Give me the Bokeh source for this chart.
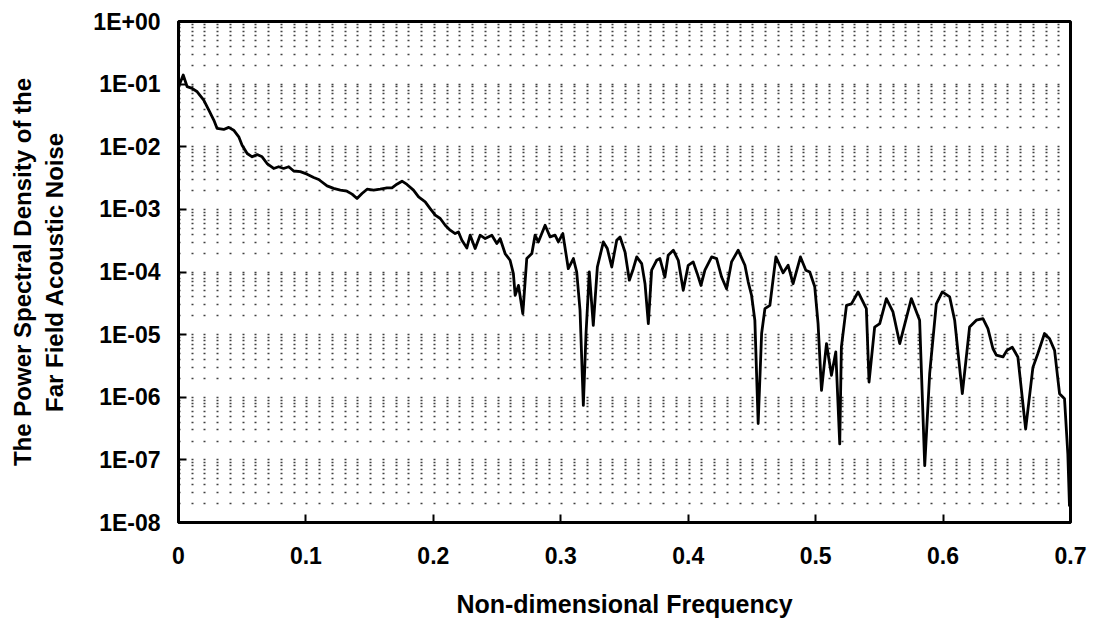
from bokeh.plotting import figure
from bokeh.models import Range1d, FixedTicker, CustomJSTickFormatter, ColumnDataSource
from bokeh.embed import file_html
from bokeh.resources import INLINE

# ---- data ----
freq = [0.000, 0.0037, 0.0068, 0.0107, 0.0147, 0.0198, 0.0238, 0.0277, 0.0303, 0.0355,
        0.0394, 0.0433, 0.0473, 0.0499, 0.0539, 0.0578, 0.0617, 0.0656, 0.0695, 0.0747,
        0.0786, 0.0825, 0.0865, 0.0904, 0.0956, 0.1009, 0.1061, 0.1100, 0.1166, 0.1217,
        0.1270, 0.1322, 0.1362, 0.1401, 0.1440, 0.1480, 0.1531, 0.1583, 0.1636, 0.1675,
        0.1714, 0.1754, 0.1793, 0.1844, 0.1884, 0.1936, 0.1975, 0.2015, 0.2054, 0.2093,
        0.2132, 0.2171, 0.2197, 0.2224, 0.2263, 0.2289, 0.2328, 0.2367, 0.2407, 0.2459,
        0.2498, 0.2524, 0.2563, 0.2602, 0.2628, 0.2642, 0.2668, 0.2702, 0.2733, 0.2773,
        0.2798, 0.2824, 0.2877, 0.2916, 0.2955, 0.2981, 0.3016, 0.3059, 0.3099, 0.3125,
        0.3151, 0.3177, 0.3198, 0.3224, 0.3255, 0.3287, 0.3334, 0.3365, 0.3400, 0.3439,
        0.3465, 0.3504, 0.3538, 0.3569, 0.3596, 0.3635, 0.3661, 0.3687, 0.3713, 0.3752,
        0.3778, 0.3817, 0.3843, 0.3883, 0.3922, 0.3961, 0.4000, 0.4039, 0.4071, 0.4100,
        0.4131, 0.4184, 0.4223, 0.4262, 0.4301, 0.4340, 0.4392, 0.4445, 0.4471, 0.4497,
        0.4523, 0.4549, 0.4576, 0.4602, 0.4641, 0.4688, 0.4745, 0.4784, 0.4823, 0.4881,
        0.4923, 0.4954, 0.4993, 0.5019, 0.5046, 0.5085, 0.5124, 0.5158, 0.5189, 0.5202,
        0.5242, 0.5281, 0.5333, 0.5398, 0.5419, 0.5463, 0.5503, 0.5555, 0.5607, 0.5660,
        0.5751, 0.5816, 0.5856, 0.5895, 0.5947, 0.5994, 0.6052, 0.6091, 0.6151, 0.6208,
        0.6261, 0.6313, 0.6352, 0.6391, 0.6418, 0.6470, 0.6501, 0.6543, 0.6587, 0.6648,
        0.6705, 0.6744, 0.6796, 0.6836, 0.6875, 0.6914, 0.6953, 0.6979, 0.6992]

psd = [0.09, 0.14, 0.091, 0.0855, 0.0755, 0.0556, 0.0385, 0.0267, 0.0196, 0.0189,
       0.0204, 0.0184, 0.0144, 0.0106, 0.0078, 0.0069, 0.0075, 0.0069, 0.0054, 0.0045,
       0.0048, 0.0045, 0.0048, 0.0041, 0.0040, 0.00365, 0.00323, 0.0030, 0.00237, 0.00216,
       0.00203, 0.00195, 0.00175, 0.00149, 0.00179, 0.0021, 0.00203, 0.0021, 0.0022, 0.0022,
       0.00252, 0.00282, 0.0025, 0.00203, 0.00158, 0.00132, 0.00103, 0.000807, 0.000715, 0.000558,
       0.000465, 0.000411, 0.000436, 0.000322, 0.000242, 0.000387, 0.000237, 0.000387, 0.000342, 0.000387,
       0.000285, 0.000342, 0.000197, 0.000154, 9.4e-5, 4.25e-5, 6.1e-5, 2.17e-5, 0.000164, 0.000197,
       0.000387, 0.000302, 0.000558, 0.000363, 0.000387, 0.000302, 0.000411, 0.000113, 0.000164, 1.0e-4,
       2.45e-5, 7.4e-7, 1.04e-5, 1.0e-4, 1.41e-5, 0.00012, 0.000302, 0.000237, 0.00012, 0.000322,
       0.000363, 0.000209, 7.4e-5, 0.000113, 0.000174, 0.000136, 6.5e-5, 1.5e-5, 0.000107, 0.000154,
       0.000164, 8.3e-5, 0.000185, 0.000223, 0.000154, 5.1e-5, 0.000128, 0.000145, 9.4e-5, 6.1e-5,
       0.000107, 0.000174, 0.000164, 8.3e-5, 5.4e-5, 0.000145, 0.000223, 0.000128, 6.9e-5, 4.25e-5,
       1.69e-5, 3.8e-7, 1.04e-5, 2.6e-5, 2.94e-5, 0.000174, 9.7e-5, 0.000128, 6.5e-5, 0.000174,
       0.000107, 1.0e-4, 5.8e-5, 1.5e-5, 1.29e-6, 7.2e-6, 2.24e-6, 5.3e-6, 1.8e-7, 6.3e-6,
       2.94e-5, 3.1e-5, 4.8e-5, 2.6e-5, 1.75e-6, 1.32e-5, 1.5e-5, 3.76e-5, 2.3e-5, 7.2e-6,
       3.76e-5, 1.7e-5, 8.1e-8, 2.4e-6, 3.1e-5, 4.8e-5, 4.0e-5, 1.7e-5, 1.14e-6, 1.32e-5,
       1.7e-5, 1.8e-5, 1.25e-5, 6.0e-6, 4.7e-6, 4.4e-6, 5.6e-6, 6.3e-6, 4.4e-6, 3.1e-7,
       3.0e-6, 5.0e-6, 1.04e-5, 8.6e-6, 5.6e-6, 1.14e-6, 9.5e-7, 1.25e-7, 1.8e-8]

x_ticks = [0.0, 0.1, 0.2, 0.3, 0.4, 0.5, 0.6, 0.7]
x_tick_labels = ["0", "0.1", "0.2", "0.3", "0.4", "0.5", "0.6", "0.7"]
y_ticks = [1e-8, 1e-7, 1e-6, 1e-5, 1e-4, 1e-3, 1e-2, 1e-1, 1e0]
x_label = "Non-dimensional Frequency"
y_label = "The Power Spectral Density of the\nFar Field Acoustic Noise"

FONT = "Liberation Sans"
W, H = 1090, 620
BL, BR, BT, BB = 178, 20, 21, 98
frame_w = W - BL - BR

p = figure(width=W, height=H, output_backend="svg", toolbar_location=None,
           y_axis_type="log",
           x_range=Range1d(0, 0.7), y_range=Range1d(1e-8, 1.0),
           min_border_left=BL, min_border_right=BR, min_border_top=BT, min_border_bottom=BB)
p.background_fill_color = "white"
p.border_fill_color = "white"
p.outline_line_color = "black"
p.outline_line_width = 3

# dotted grid: dots every 0.01 in x along each log row
n_cols = 70
pos = [round(k * frame_w / n_cols) for k in range(n_cols + 1)]
dash = []
for a, b in zip(pos[:-1], pos[1:]):
    dash += [2, (b - a) - 2]
dash_str = " ".join(str(d) for d in dash)

minor_y = [m * 10.0 ** e for e in range(-8, 0) for m in range(2, 10)]

p.xgrid.grid_line_color = None
p.ygrid.ticker = FixedTicker(ticks=y_ticks, minor_ticks=minor_y)
p.ygrid.grid_line_color = "black"
p.ygrid.grid_line_alpha = 0.75
p.ygrid.grid_line_width = 1.5
p.ygrid.grid_line_dash = dash_str
p.ygrid.minor_grid_line_color = "black"
p.ygrid.minor_grid_line_alpha = 0.75
p.ygrid.minor_grid_line_width = 1.5
p.ygrid.minor_grid_line_dash = dash_str

# axes
p.xaxis.ticker = FixedTicker(ticks=x_ticks)
p.xaxis.major_label_overrides = {t: s for t, s in zip(x_ticks, x_tick_labels)}
p.yaxis.ticker = FixedTicker(ticks=y_ticks)
p.yaxis.formatter = CustomJSTickFormatter(code="""
    const e = Math.round(Math.log10(tick));
    return '1E' + (e < 0 ? '-' : '+') + String(Math.abs(e)).padStart(2, '0');
""")

for ax in (p.xaxis[0], p.yaxis[0]):
    ax.axis_line_color = "black"
    ax.axis_line_width = 3
    ax.major_tick_in = 8
    ax.major_tick_out = 0
    ax.major_tick_line_width = 2
    ax.major_tick_line_color = "black"
    ax.minor_tick_in = 0
    ax.minor_tick_out = 0
    ax.major_label_text_font = FONT
    ax.major_label_text_font_style = "bold"
    ax.major_label_text_font_size = "23px"
    ax.major_label_text_color = "black"
    ax.axis_label_text_font = FONT
    ax.axis_label_text_font_style = "bold"
    ax.axis_label_text_color = "black"

p.xaxis.axis_label = x_label
p.xaxis.axis_label_text_font_size = "25px"
p.xaxis.major_label_standoff = 24
p.xaxis.axis_label_standoff = 23
p.yaxis.axis_label = y_label
p.yaxis.axis_label_text_font_size = "24px"
p.yaxis.major_label_standoff = 18
p.yaxis.axis_label_standoff = 22

src = ColumnDataSource(data=dict(x=freq, y=psd))
p.line("x", "y", source=src, line_color="black", line_width=2.8, line_join="round")

open("out.html", "w").write(file_html(p, INLINE))
